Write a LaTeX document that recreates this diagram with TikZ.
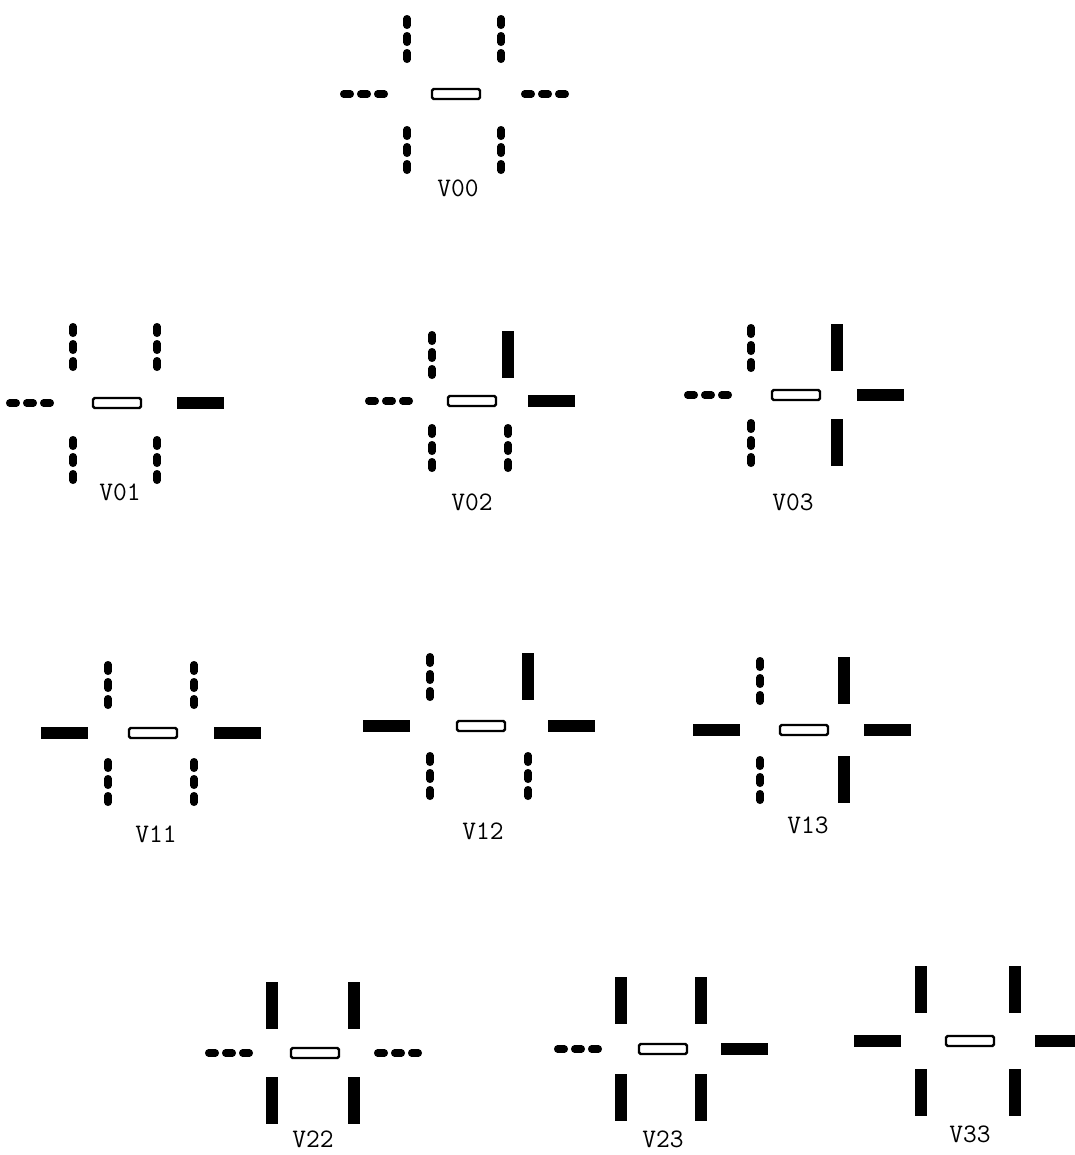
\documentclass[tikz,border=0pt]{standalone}
\usepackage{fontspec}
\usepackage{tikz}
\tikzset{solidbar/.style={line width=2.8mm},
dotbar/.style={line width=1.8mm,line cap=round,dash pattern=on 1.7mm off 2.55mm,dash phase=3.35mm},
slot/.style={line width=0.6mm,rounded corners=0.4mm},
tag/.style={font=\ttfamily\fontsize{19}{19}\selectfont},
barUL/.style=dotbar,barUR/.style=dotbar,barLL/.style=dotbar,barLR/.style=dotbar,
barL/.style=dotbar,barR/.style=dotbar}
\newcommand{\vcell}[5]{%
\begin{scope}[shift={(#1,#2)},#5]
\draw[slot](-22,-5)rectangle(26,5);
\draw[barUL]({-#3},{-#4-47})--({-#3},{-#4});
\draw[barUR]({#3},{-#4-47})--({#3},{-#4});
\draw[barLL]({-#3},{#4})--({-#3},{#4+47});
\draw[barLR]({#3},{#4})--({#3},{#4+47});
\draw[barL]({-#3-67},0)--({-#3-20},0);
\draw[barR]({#3+20},0)--({#3+67},0);
\end{scope}}

\begin{document}
\begin{tikzpicture}[x=0.25mm,y=-0.25mm]
\useasboundingbox(0,0)rectangle(1075,1155);
\vcell{454}{94}{47}{32}{}
\vcell{115}{403}{42}{33}{barR/.style=solidbar}
\vcell{470}{401}{38}{23}{barUR/.style=solidbar,barR/.style=solidbar}
\vcell{794}{395}{43}{24}{barUR/.style=solidbar,barLR/.style=solidbar,barR/.style=solidbar}
\vcell{151}{733}{43}{25}{barL/.style=solidbar,barR/.style=solidbar}
\vcell{479}{726}{49}{26}{barUR/.style=solidbar,barL/.style=solidbar,barR/.style=solidbar}
\vcell{802}{730}{42}{26}{barUR/.style=solidbar,barLR/.style=solidbar,barL/.style=solidbar,barR/.style=solidbar}
\vcell{313}{1053}{41}{24}{barUL/.style=solidbar,barUR/.style=solidbar,barLL/.style=solidbar,barLR/.style=solidbar}
\vcell{661}{1049}{40}{25}{barUL/.style=solidbar,barUR/.style=solidbar,barLL/.style=solidbar,barLR/.style=solidbar,barR/.style=solidbar}
\vcell{968}{1041}{47}{28}{barUL/.style=solidbar,barUR/.style=solidbar,barLL/.style=solidbar,barLR/.style=solidbar,barL/.style=solidbar,barR/.style=solidbar}
\node[tag](V00)at(458,188){V00};
\node[tag](V01)at(120,492){V01};
\node[tag](V02)at(472,502){V02};
\node[tag](V03)at(793,502){V03};
\node[tag](V11)at(156,834){V11};
\node[tag](V12)at(483,831){V12};
\node[tag](V13)at(808,825){V13};
\node[tag](V22)at(313,1139){V22};
\node[tag](V23)at(663,1139){V23};
\node[tag](V33)at(970,1134){V33};
\end{tikzpicture}
\end{document}
